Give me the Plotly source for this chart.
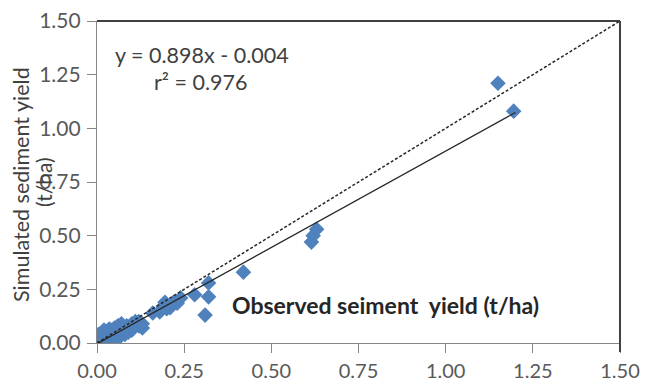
import plotly.graph_objects as go

observed = [0.000, 0.005, 0.010, 0.010, 0.015, 0.020, 0.020, 0.025, 0.030, 0.030,
            0.035, 0.040, 0.040, 0.045, 0.050, 0.050, 0.055, 0.060, 0.060, 0.065,
            0.070, 0.075, 0.080, 0.085, 0.090, 0.100, 0.110, 0.120, 0.130, 0.000,
            0.005, 0.020, 0.070, 0.045, 0.100, 0.110,
            0.000, 0.010, 0.030, 0.050, 0.060, 0.080, 0.090, 0.100, 0.120, 0.130,
            0.040, 0.060, 0.015, 0.035,
            0.160, 0.180, 0.195, 0.200, 0.210, 0.220, 0.240, 0.190, 0.230,
            0.280, 0.320, 0.320, 0.310, 0.420,
            0.615, 0.620, 0.630, 1.150, 1.195]
simulated = [0.000, 0.010, 0.020, 0.000, 0.030, 0.010, 0.040, 0.020, 0.030, 0.050,
             0.020, 0.040, 0.060, 0.030, 0.050, 0.070, 0.040, 0.060, 0.080, 0.030,
             0.050, 0.070, 0.060, 0.080, 0.070, 0.090, 0.100, 0.080, 0.090, 0.030,
             0.040, 0.060, 0.090, 0.010, 0.060, 0.080,
             0.010, 0.010, 0.000, 0.020, 0.040, 0.040, 0.050, 0.070, 0.100, 0.070,
             0.020, 0.020, 0.050, 0.065,
             0.140, 0.145, 0.190, 0.160, 0.165, 0.190, 0.210, 0.170, 0.185,
             0.225, 0.280, 0.215, 0.130, 0.330,
             0.470, 0.500, 0.530, 1.210, 1.080]

slope = 0.898
intercept = -0.004
fit_x = [0.0, 1.2]
one_to_one = [0.0, 1.5]
tick_vals = [0.0, 0.25, 0.5, 0.75, 1.0, 1.25, 1.5]
tick_text = ["0.00", "0.25", "0.50", "0.75", "1.00", "1.25", "1.50"]

FONT = "Lato"
GRAY = "#595959"

fig = go.Figure()
fig.add_trace(go.Scatter(x=observed, y=simulated, mode="markers",
                         marker=dict(symbol="diamond", size=12, color="#4F81BD"),
                         showlegend=False))
fig.add_trace(go.Scatter(x=one_to_one, y=one_to_one, mode="lines",
                         line=dict(color="#262626", width=1.5, dash="3px,2px"),
                         showlegend=False))
fig.add_trace(go.Scatter(x=fit_x, y=[slope * v + intercept for v in fit_x], mode="lines",
                         line=dict(color="#262626", width=1.3),
                         showlegend=False))

axis_common = dict(range=[0, 1.5], tickvals=tick_vals, ticktext=tick_text,
                   showgrid=False, zeroline=False, showline=True,
                   linecolor="#868686", linewidth=1.2, ticks="outside",
                   tickcolor="#868686", ticklen=9, automargin=False)
fig.update_xaxes(**axis_common, ticklabelstandoff=1,
                 tickfont=dict(family=FONT, size=20, color=GRAY))
fig.update_yaxes(**axis_common, ticklabelstandoff=2,
                 tickfont=dict(family=FONT, size=21, color=GRAY))

fig.add_shape(type="line", xref="paper", yref="paper", x0=0, x1=1, y0=1, y1=1,
              line=dict(color="#404040", width=2))
fig.add_shape(type="line", xref="paper", yref="paper", x0=1, x1=1, y0=1, y1=-0.028,
              line=dict(color="#404040", width=2))

W, H = 645, 384
L, R, T, B = 97, 25, 21, 41
pw, ph = W - L - R, H - T - B

def px(x):
    return (x - L) / pw

def py(y):
    return (H - B - y) / ph

anns = [
    dict(text="Simulated sediment yield", x=px(21), y=py(184), textangle=-90,
         font=dict(family=FONT, size=21.5, color="#404040")),
    dict(text="(t/ha)", x=px(43), y=py(182), textangle=-90,
         font=dict(family=FONT, size=21, color="#404040")),
    dict(text="y = 0.898x - 0.004", x=px(113), y=py(55), xanchor="left",
         font=dict(family=FONT, size=21.5, color="#404040")),
    dict(text="r² = 0.976", x=px(152), y=py(82), xanchor="left",
         font=dict(family=FONT, size=21.5, color="#404040")),
    dict(text="<b>Observed seiment  yield (t/ha)</b>", x=px(385.5), y=py(305),
         font=dict(family=FONT, size=23, color="#262626")),
]
for a in anns:
    a.setdefault("xanchor", "center")
    fig.add_annotation(xref="paper", yref="paper", showarrow=False, yanchor="middle", **a)

fig.update_layout(width=W, height=H, margin=dict(l=L, r=R, t=T, b=B),
                  plot_bgcolor="white", paper_bgcolor="white")
fig.write_html("out.html")
